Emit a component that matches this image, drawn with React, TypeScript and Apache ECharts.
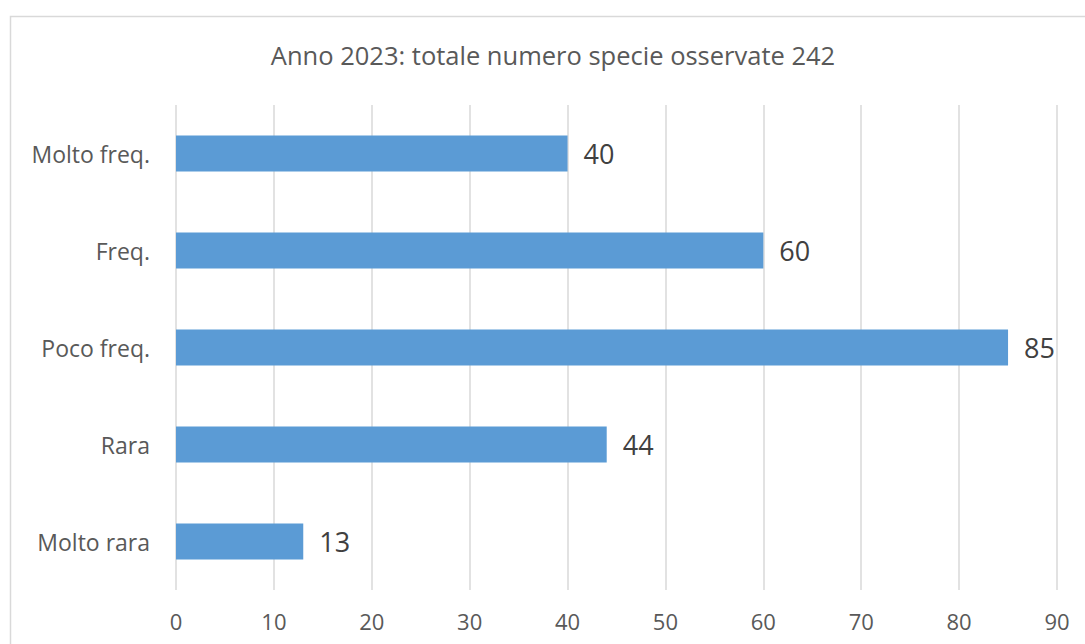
import React, { useEffect, useRef } from "react";
import * as echarts from "echarts";

const categories = ["Molto freq.", "Freq.", "Poco freq.", "Rara", "Molto rara"];
const values = [40, 60, 85, 44, 13];
const titleText = "Anno 2023: totale numero specie osservate 242";
const xMin = 0;
const xMax = 90;
const xInterval = 10;

const FONT = "Open Sans";
const TEXT = "#595959";

export default function App() {
  const ref = useRef<HTMLDivElement>(null);
  useEffect(() => {
    if (!ref.current) return;
    const chart = echarts.init(ref.current, undefined, { renderer: "svg" });
    chart.setOption({
      animation: false,
      backgroundColor: "#ffffff",
      graphic: [
        {
          type: "rect",
          shape: { x: 10.5, y: 16.5, width: 1200, height: 800 },
          style: { fill: "none", stroke: "#D9D9D9", lineWidth: 1.5 },
          silent: true,
        },
        {
          type: "text",
          x: 553,
          y: 55,
          style: {
            text: titleText,
            font: `25.5px "${FONT}"`,
            fill: TEXT,
            textAlign: "center",
            textVerticalAlign: "middle",
          },
        },
      ],
      grid: { left: 176, right: 28, top: 105, bottom: 54, containLabel: false },
      xAxis: {
        type: "value",
        min: xMin,
        max: xMax,
        interval: xInterval,
        axisLine: { show: false },
        axisTick: { show: false },
        axisLabel: { color: TEXT, fontSize: 22, fontFamily: FONT, margin: 20 },
        splitLine: { show: true, lineStyle: { color: "#D9D9D9", width: 1.5 } },
      },
      yAxis: {
        type: "category",
        data: categories,
        inverse: true,
        axisLine: { show: false },
        axisTick: { show: false },
        axisLabel: { color: TEXT, fontSize: 23, fontFamily: FONT, margin: 26 },
        splitLine: { show: false },
      },
      series: [
        {
          type: "bar",
          data: values,
          barWidth: 36,
          itemStyle: { color: "#5B9BD5" },
          label: {
            show: true,
            position: "right",
            distance: 16,
            color: "#404040",
            fontSize: 27,
            fontFamily: FONT,
          },
        },
      ],
    });
    return () => chart.dispose();
  }, []);
  return (
    <div
      ref={ref}
      style={{ position: "fixed", left: 0, top: 0, width: 1085, height: 644 }}
    />
  );
}
